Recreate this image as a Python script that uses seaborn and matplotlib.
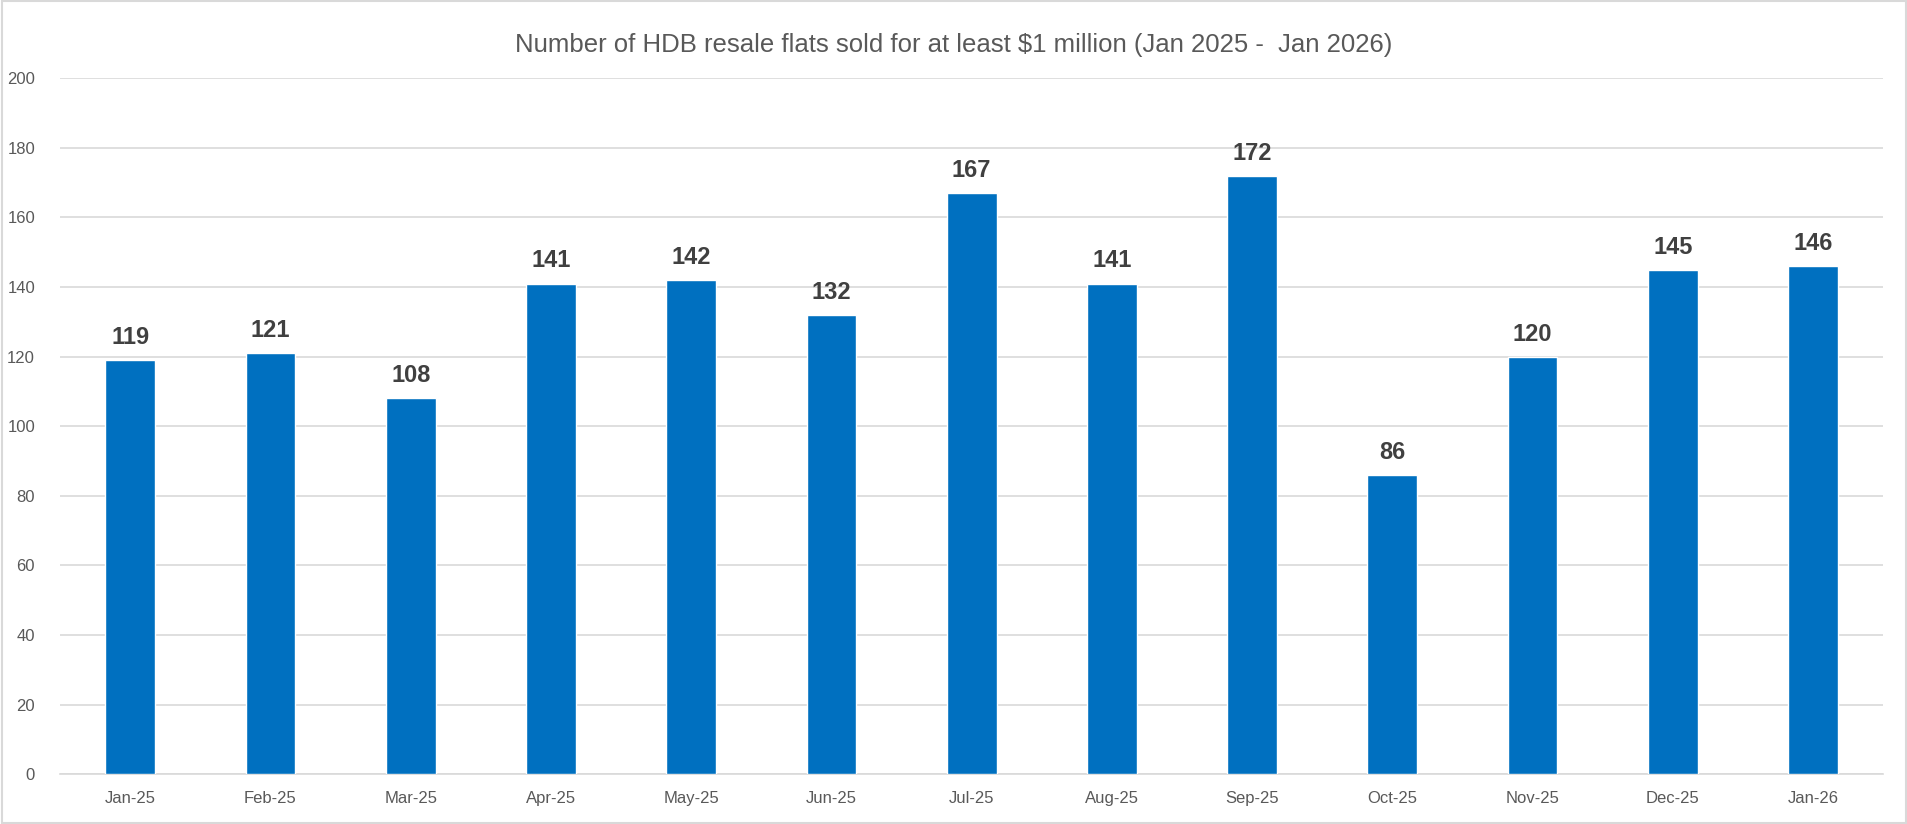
import pandas as pd
import matplotlib.pyplot as plt
import seaborn as sns

# Chart data
months = ["Jan-25", "Feb-25", "Mar-25", "Apr-25", "May-25", "Jun-25", "Jul-25",
          "Aug-25", "Sep-25", "Oct-25", "Nov-25", "Dec-25", "Jan-26"]
flats_sold = [119, 121, 108, 141, 142, 132, 167, 141, 172, 86, 120, 145, 146]
y_ticks = [0, 20, 40, 60, 80, 100, 120, 140, 160, 180, 200]

df = pd.DataFrame({"month": months, "sold": flats_sold})

sns.set_style("white")
plt.rcParams['font.family'] = ['Liberation Sans', 'DejaVu Sans']

fig = plt.figure(figsize=(19.08, 8.24), dpi=100)
ax = fig.add_axes([0.0315, 0.0605, 0.9555, 0.8445])

sns.barplot(data=df, x="month", y="sold", color="#0070C0", width=0.355,
            saturation=1, ax=ax, zorder=3)

# Value labels on top of bars
for p, v in zip(ax.patches, flats_sold):
    ax.annotate(str(v), (p.get_x() + p.get_width() / 2, v),
                xytext=(0, 8), textcoords="offset points",
                ha="center", va="bottom", fontsize=17, fontweight="bold",
                color="#404040")

ax.set_ylim(0, 200)
ax.set_yticks(y_ticks)
ax.set_xlim(-0.5, len(months) - 0.5)
ax.yaxis.grid(True, color="#D9D9D9", linewidth=1.2, zorder=0)
ax.set_axisbelow(True)
for s in ["top", "right", "left"]:
    ax.spines[s].set_visible(False)
ax.spines["bottom"].set_color("#D9D9D9")
ax.spines["bottom"].set_linewidth(1.2)

# category separator ticks
ax.set_xticks([i + 0.5 for i in range(-1, len(months))], minor=True)
ax.tick_params(axis="x", which="minor", length=6, color="#D9D9D9", width=1.2)
ax.tick_params(axis="x", which="major", length=0, pad=12, labelsize=12, labelcolor="#595959")
ax.tick_params(axis="y", length=0, pad=18, labelsize=12, labelcolor="#595959")

ax.set_xlabel("")
ax.set_ylabel("")
fig.suptitle("Number of HDB resale flats sold for at least $1 million (Jan 2025 -  Jan 2026)",
             y=0.96, fontsize=18.5, color="#595959")

# outer chart border
fig.patches.append(plt.Rectangle((0.001, 0.001), 0.998, 0.998, transform=fig.transFigure,
                                 fill=False, edgecolor="#D9D9D9", linewidth=1.5))

plt.savefig("out.png", dpi=100)
